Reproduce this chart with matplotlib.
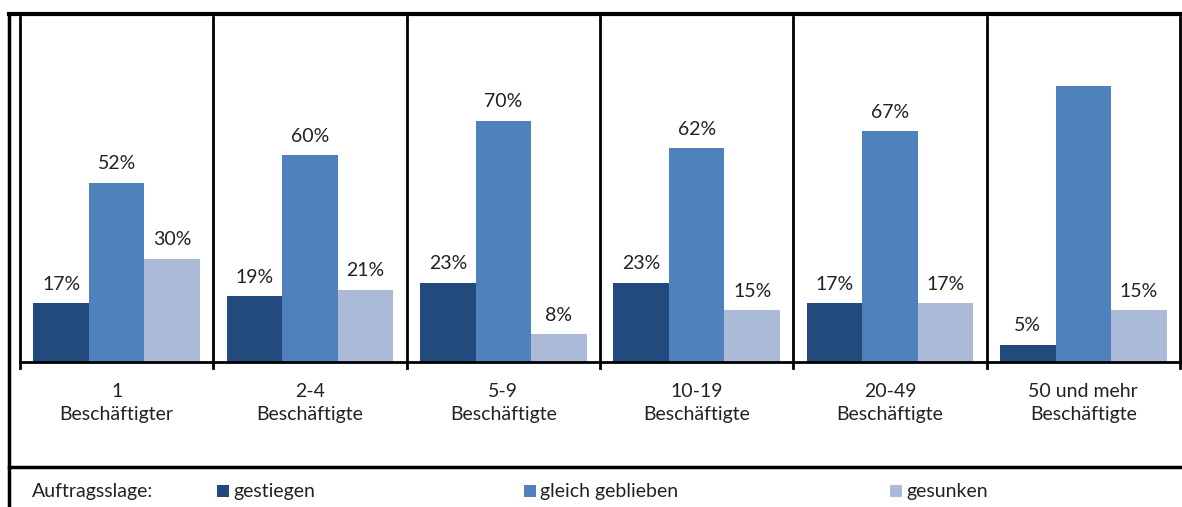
import matplotlib.pyplot as plt
from matplotlib.lines import Line2D
from matplotlib.patches import Rectangle
import numpy as np

plt.rcParams['font.family'] = ['Lato', 'DejaVu Sans']

categories = ["1\nBeschäftigter", "2-4\nBeschäftigte", "5-9\nBeschäftigte",
              "10-19\nBeschäftigte", "20-49\nBeschäftigte", "50 und mehr\nBeschäftigte"]
gestiegen = [17, 19, 23, 23, 17, 5]
gleich = [52, 60, 70, 62, 67, 80]
gesunken = [30, 21, 8, 15, 17, 15]
# the last middle bar has no label in the original
gleich_labels = ["52%", "60%", "70%", "62%", "67%", None]

series_names = ["gestiegen", "gleich geblieben", "gesunken"]
colors = ["#234A7C", "#4F81BD", "#AABAD7"]

FS = 14
W, H = 1182, 507
fig = plt.figure(figsize=(W / 100, H / 100), dpi=100)
ax = fig.add_axes([20 / W, (H - 362) / H, 1160 / W, 345 / H])

x = np.arange(len(categories))
bw = 0.287
for i, (vals, col) in enumerate(zip([gestiegen, gleich, gesunken], colors)):
    ax.bar(x + (i - 1) * bw, vals, bw, color=col, linewidth=0)

for j in range(len(categories)):
    labels = [f"{gestiegen[j]}%", gleich_labels[j], f"{gesunken[j]}%"]
    vals = [gestiegen[j], gleich[j], gesunken[j]]
    for i in range(3):
        if labels[i] is None:
            continue
        ax.text(x[j] + (i - 1) * bw, vals[i] + 3, labels[i], ha='center',
                va='bottom', fontsize=FS, color='#222222')

ax.set_xlim(-0.5, len(categories) - 0.5)
ax.set_ylim(0, 100)
ax.set_yticks([])
ax.set_xticks([])
for s in ['top', 'right']:
    ax.spines[s].set_visible(False)
ax.spines['left'].set_linewidth(2)
ax.spines['bottom'].set_linewidth(2)

# separators between groups
for b in np.arange(0.5, len(categories), 1.0):
    ax.plot([b, b], [0, 100], color='black', lw=2, clip_on=False)
# small ticks under the baseline
for b in np.arange(-0.5, len(categories), 1.0):
    ax.plot([b, b], [0, -1.8], color='black', lw=2, clip_on=False)

for j, c in enumerate(categories):
    ax.text(x[j], -6.2, c, ha='center', va='top', fontsize=FS,
            color='#222222', linespacing=1.4)

# outer frame lines
fig.add_artist(Line2D([9 / W, 1], [1 - 14 / H, 1 - 14 / H], color='black', lw=3))
fig.add_artist(Line2D([9 / W, 9 / W], [0, 1 - 14 / H], color='black', lw=2.5))
fig.add_artist(Line2D([9 / W, 1], [1 - 467 / H, 1 - 467 / H], color='black', lw=2.5))

# legend row
ly = 1 - 491 / H
fig.text(32 / W, ly, "Auftragsslage:", fontsize=FS, va='center', color='#222222')
leg_x = [217, 524, 890]
for lx, name, col in zip(leg_x, series_names, colors):
    fig.add_artist(Rectangle((lx / W, ly - 6 / H), 12 / W, 12 / H,
                             transform=fig.transFigure, color=col, lw=0))
    fig.text((lx + 16) / W, ly, name, fontsize=FS, va='center', color='#222222')

fig.savefig("out.png", dpi=100)
